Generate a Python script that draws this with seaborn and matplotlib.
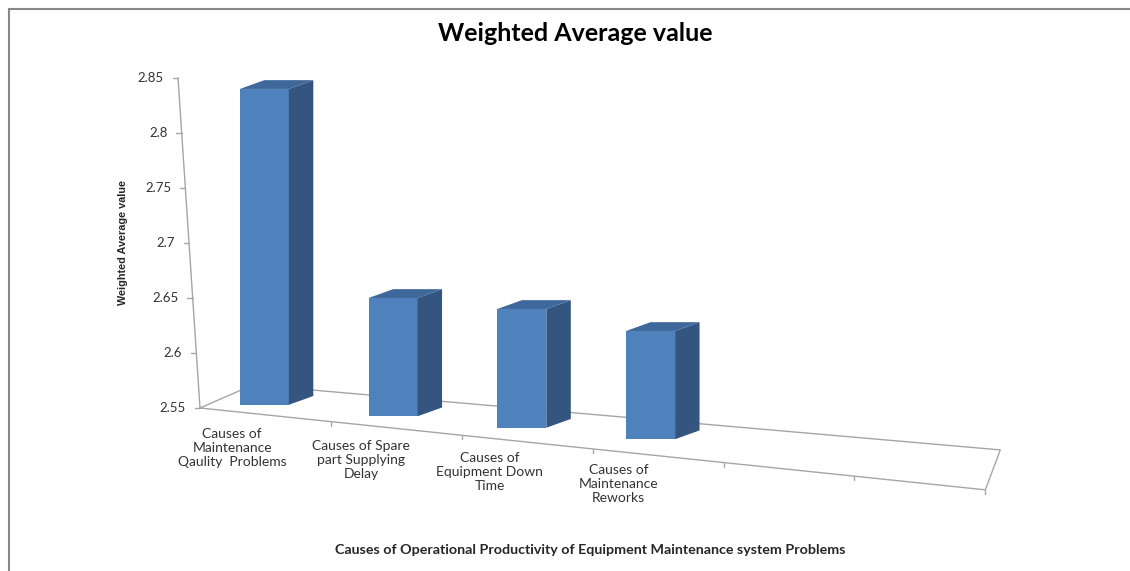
import matplotlib
matplotlib.use("Agg")
import matplotlib.pyplot as plt
from matplotlib.patches import Polygon
from matplotlib.lines import Line2D
import pandas as pd
import seaborn as sns

# Data
categories = ["Maintenance Qaulity Problems", "Spare part Supplying Delay",
              "Equipment Down Time", "Maintenance Reworks"]
tick_labels = ["Causes of\nMaintenance\nQaulity  Problems",
               "Causes of Spare\npart Supplying\nDelay",
               "Causes of\nEquipment Down\nTime",
               "Causes of\nMaintenance\nReworks"]
values = [2.84, 2.65, 2.64, 2.62]
yticks = [2.55, 2.6, 2.65, 2.7, 2.75, 2.8, 2.85]

df = pd.DataFrame({"cause": categories, "value": values})

sns.set_theme(style="white")
plt.rcParams["font.family"] = ["Lato", "DejaVu Sans"]

front = "#4F81BD"
side = "#34557F"
top = "#3E679A"
grey = "#A6A6A6"

fig = plt.figure(figsize=(11.3, 5.71), dpi=100)
ax = fig.add_axes([0.177, 0.2855, 0.695, 0.578])

sns.barplot(data=df, x="cause", y="value", color=front, width=0.38,
            saturation=1, linewidth=0, ax=ax, zorder=3)
xmin, xmax = -0.5, 5.6
ax.set_xlim(xmin, xmax)
ax.set_ylim(2.55, 2.85)
span = xmax - xmin

# bars stand on a tilted floor: front bottom follows a line in axes space
dx, dy = 0.19, 0.008
for p in ax.patches:
    x0 = p.get_x()
    x1 = x0 + p.get_width()
    h = p.get_height()
    xf = ((x0 + x1) / 2 - xmin) / span
    b = 2.55 + 0.30 * (0.027 - 0.212 * xf)
    p.set_y(b)
    p.set_height(h - b)
    p.set_clip_on(False)
    ax.add_patch(Polygon([(x1, b), (x1 + dx, b + dy), (x1 + dx, h + dy), (x1, h)],
                         closed=True, color=side, zorder=3, lw=0, clip_on=False))
    ax.add_patch(Polygon([(x0, h), (x1, h), (x1 + dx, h + dy), (x0 + dx, h + dy)],
                         closed=True, color=top, zorder=3, lw=0, clip_on=False))

for s in ax.spines.values():
    s.set_visible(False)
ax.set_xticks([])
ax.set_yticks([])
ax.set_xlabel("")
ax.set_ylabel("")

# slanted value axis and floor
tr = ax.transAxes
ax.plot([-0.028, 0], [1, 0], color=grey, lw=1, transform=tr, clip_on=False)
for v in yticks:
    f = (v - 2.55) / 0.30
    xa = -0.028 * f
    ax.plot([xa - 0.007, xa], [f, f], color=grey, lw=1, transform=tr, clip_on=False)
    ax.text(xa - 0.018, f, f"{v:g}", transform=tr, ha="right", va="center",
            fontsize=9.5, color="#333333")

ax.plot([0, 0.0675, 1.019, 1.0, 0], [0, 0.07, -0.127, -0.248, 0], color=grey,
        lw=1, transform=tr, clip_on=False, zorder=1)
for k in range(1, 7):
    f = k / 6
    ax.plot([f, f], [-0.248 * f, -0.248 * f - 0.012], color=grey, lw=1,
            transform=tr, clip_on=False)

for i, lab in enumerate(tick_labels):
    xf = (i - 0.25 - xmin) / span
    ax.text(xf, -0.06 - 0.037 * i, lab, transform=tr, ha="center", va="top",
            fontsize=10, color="#333333", linespacing=1.2)

fig.text(0.509, 0.942, "Weighted Average value", ha="center", va="center",
         fontsize=18, fontweight="bold", color="black")
fig.text(0.109, 0.575, "Weighted Average value", rotation=90, ha="center",
         va="center", fontsize=7.8, fontweight="bold",
         family=["Liberation Sans", "DejaVu Sans"])
fig.text(0.522, 0.036, "Causes of Operational Productivity of Equipment Maintenance system Problems",
         ha="center", va="center", fontsize=10.3, fontweight="bold")

# chart border (top and left)
fig.add_artist(Line2D([0.008, 0.008], [0, 0.984], color="#888888", lw=1.5))
fig.add_artist(Line2D([0.008, 1], [0.984, 0.984], color="#888888", lw=1.5))

fig.savefig("out.png", dpi=100)
